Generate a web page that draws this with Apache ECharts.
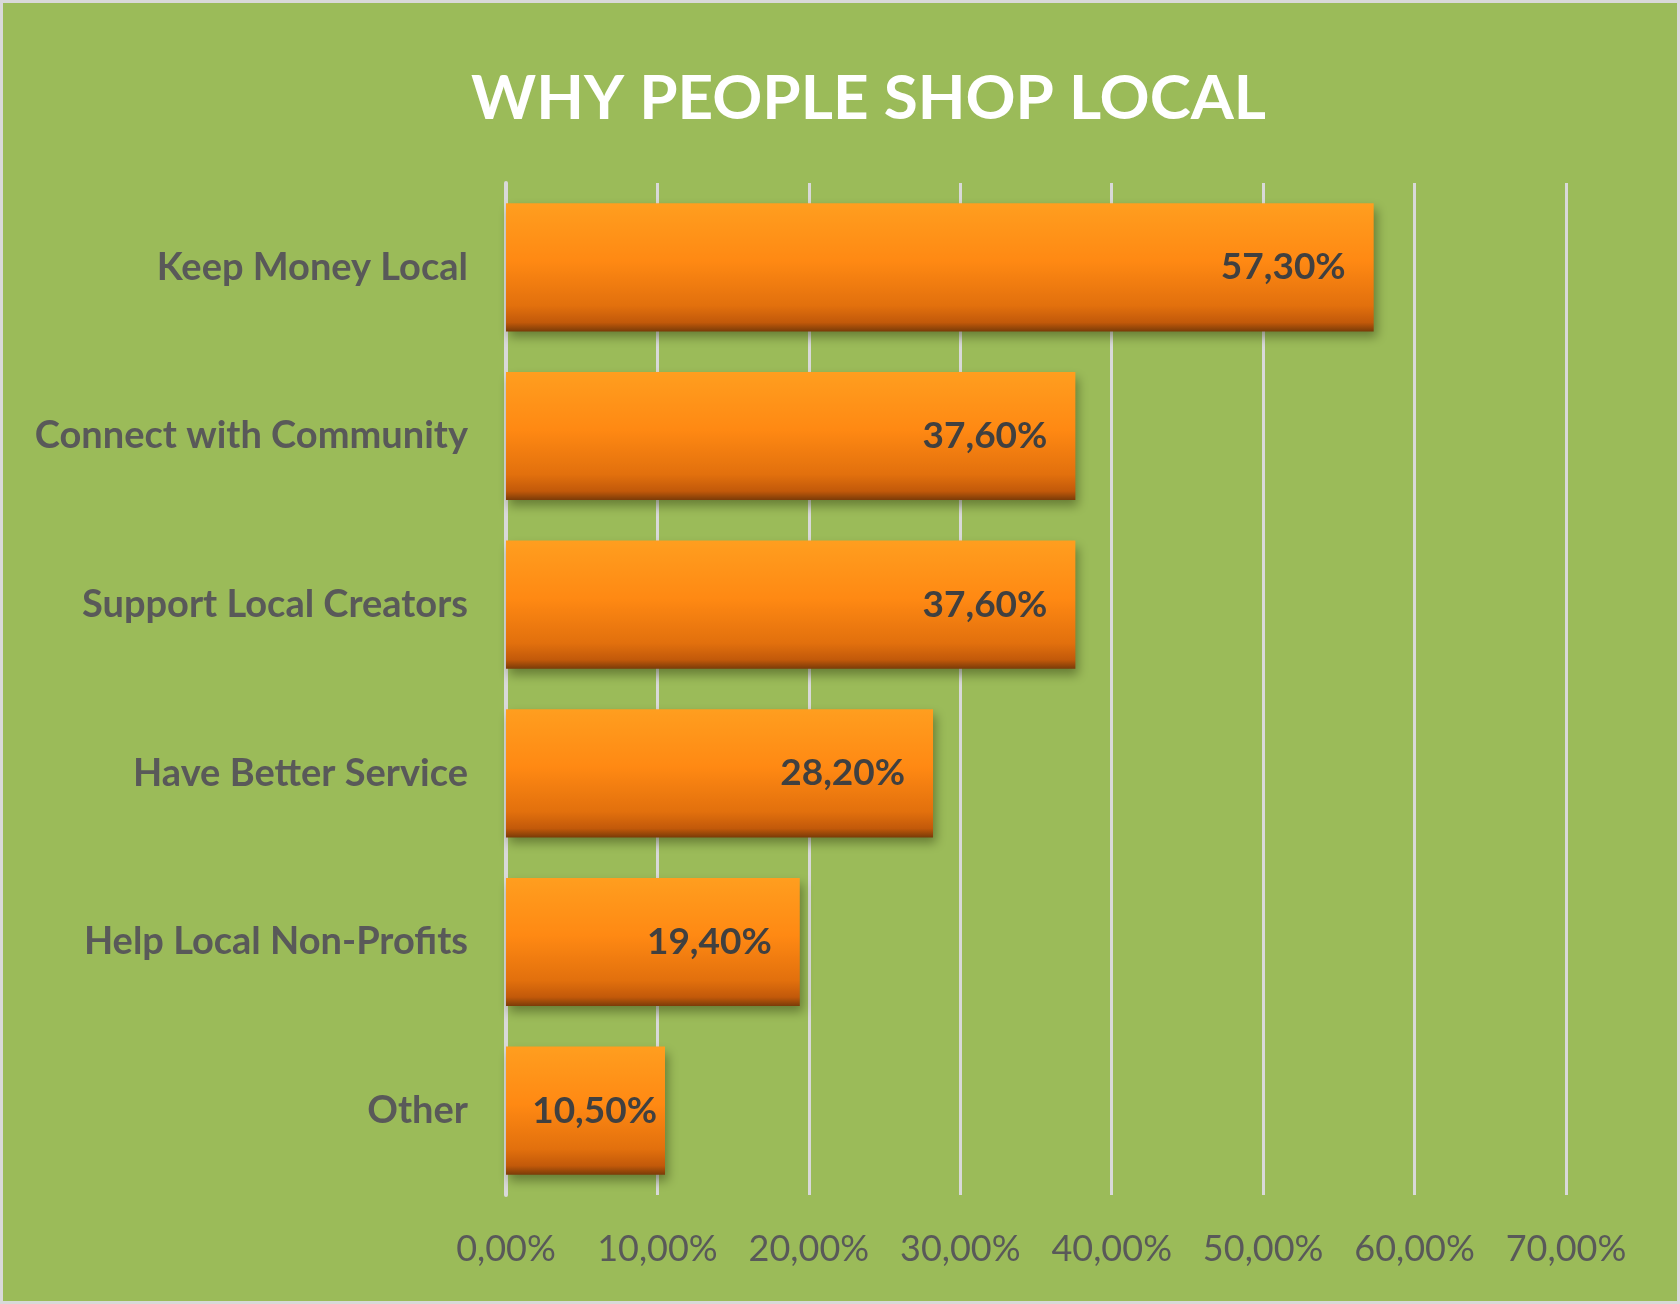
<!DOCTYPE html>
<html>
<head>
<meta charset="utf-8">
<script src="https://cdn.jsdelivr.net/npm/echarts@6/dist/echarts.min.js"></script>
<style>
  html, body { margin: 0; padding: 0; background: #ffffff; }
  #chart { width: 1680px; height: 1304px; box-sizing: border-box; border: 3px solid #D9D9D9; background: #9BBB59; }
</style>
</head>
<body>
<div id="chart"></div>
<script>
const titleText = 'WHY PEOPLE SHOP LOCAL';
const categories = ['Keep Money Local', 'Connect with Community', 'Support Local Creators', 'Have Better Service', 'Help Local Non-Profits', 'Other'];
const values = [57.3, 37.6, 37.6, 28.2, 19.4, 10.5];
const axisMin = 0;
const axisMax = 70;
const axisInterval = 10;

const fmt = v => Number(v).toFixed(2).replace('.', ',') + '%';

const chart = echarts.init(document.getElementById('chart'), null, { renderer: 'canvas' });
chart.setOption({
  backgroundColor: '#9BBB59',
  animation: false,
  title: {
    text: titleText,
    left: 463,
    top: 60,
    textStyle: { fontFamily: 'Lato', fontWeight: 'bold', fontSize: 62, color: '#FFFFFF' }
  },
  grid: { left: 503, right: 111, top: 180, bottom: 106, containLabel: false },
  xAxis: {
    type: 'value',
    min: axisMin,
    max: axisMax,
    interval: axisInterval,
    axisLine: { show: false },
    axisTick: { show: false },
    splitLine: { show: true, lineStyle: { color: '#D9D9D9', width: 3 } },
    axisLabel: {
      formatter: fmt,
      margin: 36,
      fontFamily: 'Lato',
      fontSize: 36,
      color: '#595959'
    }
  },
  yAxis: {
    type: 'category',
    data: categories,
    inverse: true,
    axisLine: { show: true, lineStyle: { color: '#D9D9D9', width: 4 } },
    axisTick: { show: false },
    axisLabel: {
      margin: 38,
      fontFamily: 'Lato',
      fontWeight: 'bold',
      fontSize: 38,
      color: '#595959'
    }
  },
  series: [{
    type: 'bar',
    data: values.map(v => v < 15 ? { value: v, label: { distance: 8 } } : v),
    barCategoryGap: '24%',
    itemStyle: {
      color: {
        type: 'linear', x: 0, y: 0, x2: 0, y2: 1,
        colorStops: [
          { offset: 0, color: '#FF9E1F' },
          { offset: 0.45, color: '#FF8913' },
          { offset: 0.8, color: '#E2700D' },
          { offset: 0.93, color: '#C2590A' },
          { offset: 1, color: '#7A3B08' }
        ]
      },
      shadowColor: 'rgba(40,50,10,0.45)',
      shadowBlur: 10,
      shadowOffsetX: 3,
      shadowOffsetY: 6
    },
    label: {
      show: true,
      position: 'insideRight',
      distance: 28,
      formatter: p => fmt(p.value),
      fontFamily: 'Lato',
      fontWeight: 'bold',
      fontSize: 37,
      color: '#404040'
    }
  }]
});
</script>
</body>
</html>
